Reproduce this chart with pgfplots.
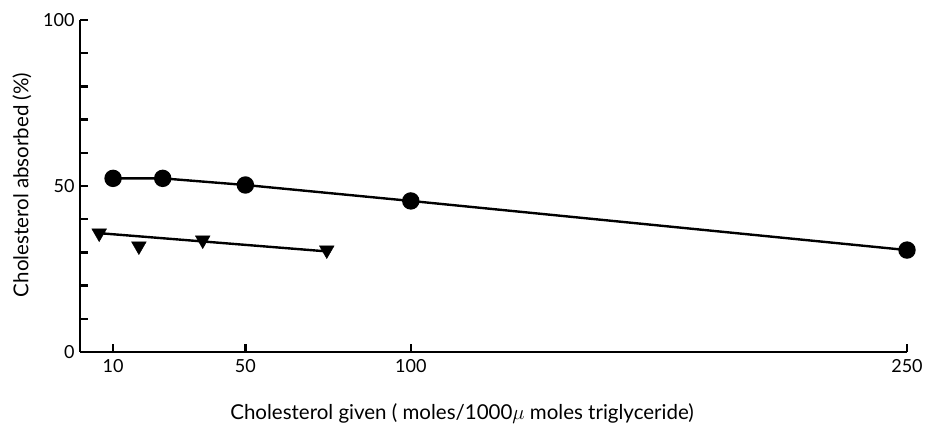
\documentclass[border=0pt]{standalone}
\usepackage{pgfplots}
\pgfplotsset{compat=1.18}
\usepackage{fontspec}
\setmainfont{Lato}
\begin{document}
\begin{tikzpicture}
\begin{axis}[
  scale only axis,
  width=827pt, height=332pt,
  xmin=0, xmax=250, ymin=0, ymax=100,
  axis x line=bottom, axis y line=left,
  axis line style={-, line width=2.8pt},
  xtick={10,50,100,250},
  ytick={0,10,...,100},
  yticklabels={0,,,,,50,,,,,100},
  tick style={line width=2.4pt, black},
  tick align=inside,
  major tick length=8pt,
  /pgf/number format/assume math mode=true,
  tick label style={font=\fontsize{18}{20}\selectfont},
  xticklabel style={yshift=-4pt},
  yticklabel style={xshift=-2pt},
  label style={font=\fontsize{20.5}{24}\selectfont},
  xlabel={Cholesterol given ( moles/1000$\mu$ moles triglyceride)},
  ylabel={Cholesterol absorbed (\%)},
  xlabel style={at={(axis description cs:0.462,-0.184)}, anchor=center},
  ylabel style={at={(axis description cs:-0.0701,0.503)}, anchor=center},
  clip=false,
]
\addplot[black, line width=2.4pt, mark=*, mark size=7.5pt] coordinates {
  (10,52.3) (25,52.3) (50,50.3) (100,45.5) (250,30.7)
};
\addplot[only marks, black, mark=triangle*, mark size=8.5pt, mark options={rotate=180}] coordinates {
  (5.8,35.8) (17.8,31.9) (37.1,33.7) (74.6,30.7)
};
\addplot[black, line width=2.4pt] coordinates {
  (5.8,35.8) (74.6,30.3)
};
\end{axis}
\pgfresetboundingbox
\path[use as bounding box] (-80pt,-75pt) rectangle (845pt,352pt);
\end{tikzpicture}
\end{document}
